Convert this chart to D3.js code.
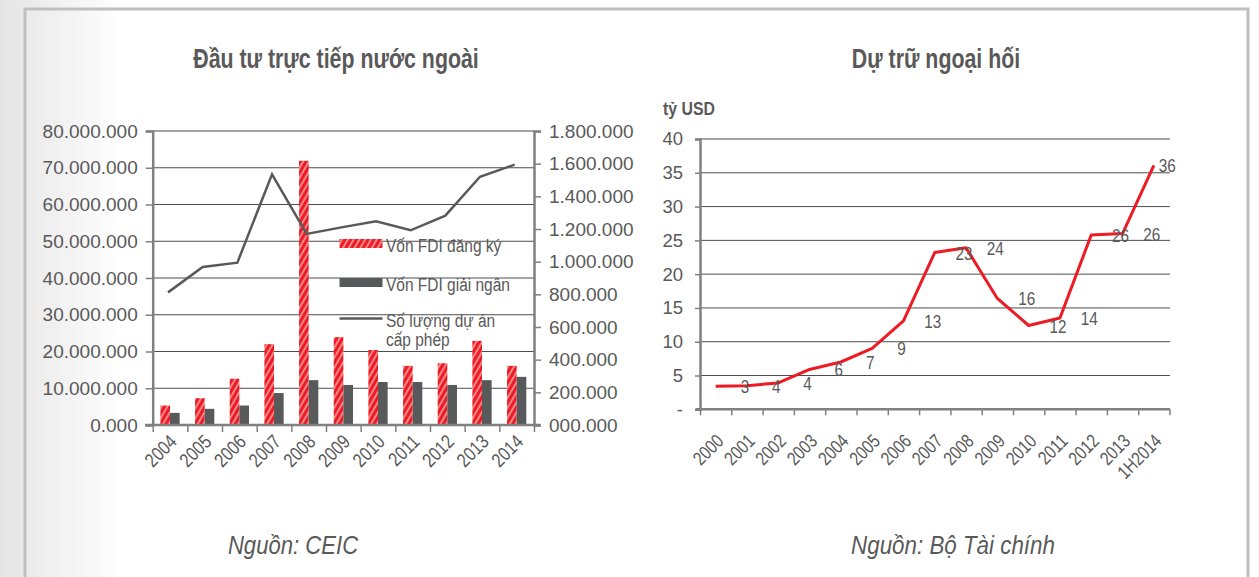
<!DOCTYPE html>
<html>
<head>
<meta charset="utf-8">
<script src="https://cdn.jsdelivr.net/npm/d3@7"></script>
<style>
body { margin: 0; background: #fff; }
svg { display: block; }
</style>
</head>
<body>
<div id="chart"></div>
<script>
// ---- left chart data (FDI) ----
var years = ["2004", "2005", "2006", "2007", "2008", "2009", "2010", "2011", "2012", "2013", "2014"];
var registered = [5300000, 7300000, 12600000, 22000000, 71900000, 23900000, 20400000, 16100000, 16800000, 22900000, 16100000];
var disbursed  = [3300000, 4400000, 5300000, 8700000, 12200000, 10900000, 11700000, 11700000, 10900000, 12200000, 13100000];
var projects   = [812000, 967000, 994000, 1535000, 1170000, 1210000, 1247000, 1192000, 1282000, 1520000, 1594000];
var leftTicks  = [0, 10000000, 20000000, 30000000, 40000000, 50000000, 60000000, 70000000, 80000000];
var rightTicks = [0, 200000, 400000, 600000, 800000, 1000000, 1200000, 1400000, 1600000, 1800000];
var legendNames = ["Vốn FDI đăng ký", "Vốn FDI giải ngân", "Số lượng dự án", "cấp phép"];

// ---- right chart data (reserves, tỷ USD) ----
var periods  = ["2000", "2001", "2002", "2003", "2004", "2005", "2006", "2007", "2008", "2009", "2010", "2011", "2012", "2013", "1H2014"];
var reserves = [3.4, 3.5, 3.9, 5.9, 7.0, 9.0, 13.1, 23.2, 23.9, 16.4, 12.4, 13.5, 25.8, 26.0, 36.1];
var reserveLabels = ["3", "4", "4", "6", "7", "9", "13", "23", "24", "16", "12", "14", "26", "26", "36"];
var reserveTicks = [0, 5, 10, 15, 20, 25, 30, 35, 40];

var red = "#ed1c24", dark = "#58595b", txt = "#595959", axisCol = "#808080";
var sans = "'Liberation Sans', Arial, sans-serif";

var vn = d3.formatLocale({decimal: ",", thousands: ".", grouping: [3], currency: ["", ""]});

// no condensed face installed, so squeeze the regular one
function squeeze(sel, f) {
  sel.each(function() {
    var w = this.getComputedTextLength();
    d3.select(this).attr("textLength", w * f).attr("lengthAdjust", "spacingAndGlyphs");
  });
}

var svg = d3.select("#chart").append("svg")
    .attr("width", 1259).attr("height", 577)
    .style("font-family", sans);

var defs = svg.append("defs");
var bg = defs.append("linearGradient").attr("id", "bg").attr("x1", 0).attr("x2", 1).attr("y1", 0).attr("y2", 0);
bg.append("stop").attr("offset", 0).attr("stop-color", "#e4e4e4");
bg.append("stop").attr("offset", 1).attr("stop-color", "#ffffff");
var hatch = defs.append("pattern").attr("id", "hatch")
    .attr("patternUnits", "userSpaceOnUse").attr("width", 5).attr("height", 10)
    .attr("patternTransform", "rotate(30)");
hatch.append("rect").attr("width", 5).attr("height", 10).attr("fill", red);
hatch.append("line").attr("x1", 1).attr("x2", 1).attr("y1", 0).attr("y2", 10)
    .attr("stroke", "#fff").attr("stroke-width", 1.1).attr("stroke-opacity", 0.85);

// background + frame
svg.append("rect").attr("width", 120).attr("height", 577).attr("fill", "url(#bg)");
svg.append("rect").attr("x", 25).attr("y", 9).attr("width", 1223).attr("height", 600)
    .attr("fill", "none").attr("stroke", "#bfbfbf").attr("stroke-width", 3);

function styleAxis(g, size) {
  g.select(".domain").attr("stroke", axisCol).attr("stroke-width", 2.5);
  g.selectAll(".tick line").attr("stroke", axisCol).attr("stroke-width", 1.5);
  g.selectAll("text").attr("fill", txt).style("font-family", sans).style("font-size", size + "px");
}

// ================= LEFT CHART =================
var x1 = d3.scaleBand().domain(years).range([152.7, 534]);
var xs = d3.scaleBand().domain(["reg", "dis"]).range([0, x1.bandwidth()]).paddingOuter(0.8);
var y1 = d3.scaleLinear().domain([0, 80000000]).range([425, 131]);
var y1r = d3.scaleLinear().domain([0, 1800000]).range([425, 131]);

svg.append("g").selectAll("line").data(leftTicks.slice(1)).join("line")
    .attr("x1", 152.7).attr("x2", 534)
    .attr("y1", function(d) { return y1(d); }).attr("y2", function(d) { return y1(d); })
    .attr("stroke", "#4d4d4d").attr("stroke-width", 1);

var groups = svg.append("g").selectAll("g").data(years).join("g")
    .attr("transform", function(d) { return "translate(" + x1(d) + ",0)"; });
groups.append("rect")
    .attr("x", xs("reg")).attr("width", xs.bandwidth())
    .attr("y", function(d, i) { return y1(registered[i]); })
    .attr("height", function(d, i) { return y1(0) - y1(registered[i]); })
    .attr("fill", "url(#hatch)");
groups.append("rect")
    .attr("x", xs("dis")).attr("width", xs.bandwidth())
    .attr("y", function(d, i) { return y1(disbursed[i]); })
    .attr("height", function(d, i) { return y1(0) - y1(disbursed[i]); })
    .attr("fill", dark);

var gl = svg.append("g").attr("transform", "translate(152.7,0)")
    .call(d3.axisLeft(y1).tickValues(leftTicks).tickSize(7).tickPadding(8).tickFormat(vn.format("05,d")));
styleAxis(gl, 19);
var gr = svg.append("g").attr("transform", "translate(534,0)")
    .call(d3.axisRight(y1r).tickValues(rightTicks).tickSize(7).tickPadding(8).tickFormat(vn.format("07,d")));
styleAxis(gr, 19);

var xb1 = d3.scaleLinear().domain([0, years.length]).range([152.7, 534]);
var gb1 = svg.append("g").attr("transform", "translate(0,425)")
    .call(d3.axisBottom(xb1).tickValues(d3.range(years.length + 1)).tickSize(7).tickFormat(""));
styleAxis(gb1, 18);
gb1.select(".domain").attr("d", "M145,0H540");
var gx1 = svg.append("g").attr("transform", "translate(0,425)")
    .call(d3.axisBottom(x1).tickSize(0));
gx1.select(".domain").remove();
styleAxis(gx1, 19.5);
gx1.selectAll("text").attr("text-anchor", "end").attr("y", 0).attr("dy", 0)
    .attr("transform", "translate(8,18) rotate(-45)").call(squeeze, 0.82);

svg.append("path")
    .attr("d", d3.line()
        .x(function(d, i) { return x1(years[i]) + x1.bandwidth() / 2 - 2; })
        .y(function(d) { return y1r(d); })(projects))
    .attr("fill", "none").attr("stroke", dark).attr("stroke-width", 2.5);

// legend
var lg = svg.append("g").style("font-size", "18px").attr("fill", txt);
lg.append("rect").attr("x", 339.5).attr("y", 239).attr("width", 43).attr("height", 9).attr("fill", "url(#hatch)");
lg.append("rect").attr("x", 339.5).attr("y", 278).attr("width", 43).attr("height", 9).attr("fill", dark);
lg.append("line").attr("x1", 339.5).attr("x2", 382.5).attr("y1", 318.5).attr("y2", 318.5)
    .attr("stroke", dark).attr("stroke-width", 2.5);
lg.selectAll("text").data(legendNames).join("text")
    .attr("x", 386)
    .attr("y", function(d, i) { return [252, 291, 327, 346][i]; })
    .text(function(d) { return d; })
    .call(squeeze, 0.86);

svg.append("text").attr("x", 336).attr("y", 68).attr("text-anchor", "middle")
    .style("font-weight", "bold").style("font-size", "27px")
    .attr("fill", txt).text("Đầu tư trực tiếp nước ngoài").call(squeeze, 0.79);
svg.append("text").attr("x", 293).attr("y", 554).attr("text-anchor", "middle")
    .style("font-style", "italic").style("font-size", "26px")
    .attr("fill", txt).text("Nguồn: CEIC").call(squeeze, 0.85);

// ================= RIGHT CHART =================
var x2 = d3.scaleBand().domain(periods).range([700, 1169.5]);
var y2 = d3.scaleLinear().domain([0, 40]).range([409.3, 139]);

svg.append("g").selectAll("line").data(reserveTicks.slice(1)).join("line")
    .attr("x1", 700).attr("x2", 1170)
    .attr("y1", function(d) { return y2(d); }).attr("y2", function(d) { return y2(d); })
    .attr("stroke", "#4d4d4d").attr("stroke-width", 1);

var gy2 = svg.append("g").attr("transform", "translate(700,0)")
    .call(d3.axisLeft(y2).tickValues(reserveTicks).tickSize(5).tickPadding(12)
        .tickFormat(function(d) { return d === 0 ? "-" : d; }));
styleAxis(gy2, 18.5);

var xb2 = d3.scaleLinear().domain([0, periods.length]).range([700, 1169.5]);
var gb2 = svg.append("g").attr("transform", "translate(0,409.3)")
    .call(d3.axisBottom(xb2).tickValues(d3.range(periods.length + 1)).tickSize(6).tickFormat(""));
styleAxis(gb2, 18);
gb2.select(".domain").attr("d", "M696,0H1170");
var gx2 = svg.append("g").attr("transform", "translate(0,409.3)")
    .call(d3.axisBottom(x2).tickSize(0));
gx2.select(".domain").remove();
styleAxis(gx2, 19);
gx2.selectAll("text").attr("text-anchor", "end").attr("y", 0).attr("dy", 0)
    .attr("transform", "translate(9,33) rotate(-45)").call(squeeze, 0.8);

svg.append("path")
    .attr("d", d3.line()
        .x(function(d, i) { return x2(periods[i]) + x2.bandwidth() / 2; })
        .y(function(d) { return y2(d); })(reserves))
    .attr("fill", "none").attr("stroke", red).attr("stroke-width", 3).attr("stroke-linejoin", "round");

// data labels sit one category to the right, as in the source chart
svg.append("g").selectAll("text").data(reserves).join("text")
    .attr("x", function(d, i) {
      return i < periods.length - 1 ? x2(periods[i + 1]) + x2.bandwidth() / 2 - 2 : x2(periods[i]) + x2.bandwidth() / 2 + 5;
    })
    .attr("y", function(d) { return y2(d) + 7; })
    .attr("text-anchor", function(d, i) { return i < periods.length - 1 ? "middle" : "start"; })
    .style("font-size", "18px").attr("fill", txt)
    .text(function(d, i) { return reserveLabels[i]; })
    .call(squeeze, 0.85);

svg.append("text").attr("x", 663).attr("y", 115)
    .style("font-weight", "bold").style("font-size", "18px")
    .attr("fill", txt).text("tỷ USD").call(squeeze, 0.88);
svg.append("text").attr("x", 936).attr("y", 68).attr("text-anchor", "middle")
    .style("font-weight", "bold").style("font-size", "27px")
    .attr("fill", txt).text("Dự trữ ngoại hối").call(squeeze, 0.79);
svg.append("text").attr("x", 953).attr("y", 554).attr("text-anchor", "middle")
    .style("font-style", "italic").style("font-size", "26px")
    .attr("fill", txt).text("Nguồn: Bộ Tài chính").call(squeeze, 0.86);
</script>
</body>
</html>
